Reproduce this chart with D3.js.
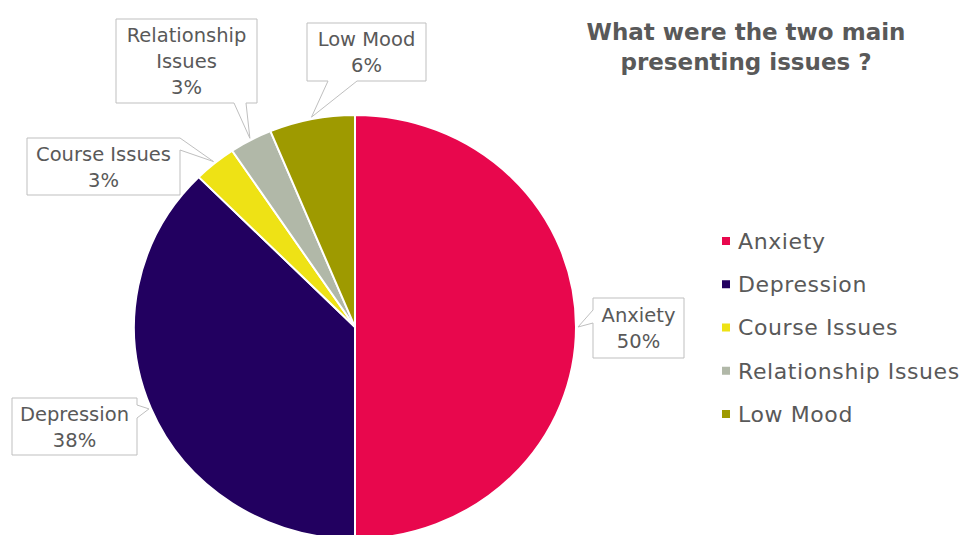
<!DOCTYPE html>
<html>
<head>
<meta charset="utf-8">
<script src="https://cdn.jsdelivr.net/npm/d3@7"></script>
<style>
	body{margin:0;background:#fff;}
	svg{display:block;font-family:"DejaVu Sans",Verdana,sans-serif;}
</style>
</head>
<body>
<svg width="964" height="535"></svg>
<script>
(()=>{

//data
let categories = ["Anxiety","Depression","Course Issues","Relationship Issues","Low Mood"];
let values = [50, 37.5, 3.125, 3.125, 6.25];
let colorList = ["#E8074D","#220060","#EEE215","#B1B8A8","#9E9A00"];
let labelLines = [["Anxiety"],["Depression"],["Course Issues"],["Relationship","Issues"],["Low Mood"]];
let titleLines = ["What were the two main","presenting issues ?"];

//callout boxes: rect + which edge the pointer leaves from
let callouts = [
	{x:593, y:298, w:91, h:60, side:"left", b1:310, b2:323},
	{x:12, y:398, w:125, h:57, side:"right", b1:405, b2:418},
	{x:27, y:138, w:153, h:57, side:"right", b1:138, b2:150},
	{x:116, y:19, w:141, h:84, side:"bottom", b1:234, b2:246},
	{x:307, y:23, w:119, h:58, side:"bottom", b1:328, b2:357}
];

let svg = d3.select("svg");
let cx = 355, cy = 327, rx = 221, ry = 212;
let textColor = "#595959";

let color = d3.scaleOrdinal().domain(categories).range(colorList);
let total = d3.sum(values);
let pct = d3.format(".0%");

let pie = d3.pie().sort(null).value(d => d.value);
let data = categories.map((c,i) => ({name:c, value:values[i], i:i}));
let arcs = pie(data);
let arc = d3.arc().innerRadius(0).outerRadius(rx);

//slices (slightly squashed vertically like the reference)
svg.append("g")
	.attr("transform", `translate(${cx},${cy}) scale(1,${ry/rx})`)
	.selectAll("path")
	.data(arcs)
	.enter().append("path")
	.attr("d", arc)
	.attr("fill", d => color(d.data.name))
	.attr("stroke", "#fff")
	.attr("stroke-width", 2);

//callouts
function tipOf(d){
	let a = (d.startAngle + d.endAngle)/2;
	return [cx + (rx+2)*Math.sin(a), cy - (ry+2)*Math.cos(a)];
}
function calloutPath(b, t){
	let x0=b.x, y0=b.y, x1=b.x+b.w, y1=b.y+b.h;
	let p = d3.path();
	p.moveTo(x0,y0);
	p.lineTo(x1,y0);
	if(b.side==="right"){
		p.lineTo(x1,b.b1); p.lineTo(t[0],t[1]); p.lineTo(x1,b.b2);
	}
	p.lineTo(x1,y1);
	if(b.side==="bottom"){
		p.lineTo(b.b2,y1); p.lineTo(t[0],t[1]); p.lineTo(b.b1,y1);
	}
	p.lineTo(x0,y1);
	if(b.side==="left"){
		p.lineTo(x0,b.b2); p.lineTo(t[0],t[1]); p.lineTo(x0,b.b1);
	}
	p.closePath();
	return p.toString();
}

let lab = svg.append("g").selectAll("g")
	.data(arcs)
	.enter().append("g");

lab.append("path")
	.attr("d", d => calloutPath(callouts[d.index], tipOf(d)))
	.attr("fill", "#fff")
	.attr("stroke", "#BFBFBF")
	.attr("stroke-width", 1);

lab.each(function(d){
	let b = callouts[d.index];
	let lines = labelLines[d.index].concat([pct(d.data.value/total)]);
	let lh = 26;
	let mid = b.y + b.h/2;
	d3.select(this).selectAll("text")
		.data(lines)
		.enter().append("text")
		.attr("x", b.x + b.w/2)
		.attr("y", (l,k) => mid + (k - (lines.length-1)/2)*lh)
		.attr("dy", "0.36em")
		.attr("text-anchor", "middle")
		.attr("font-size", 19.5)
		.attr("fill", textColor)
		.text(l => l);
});

//title
svg.append("g").selectAll("text")
	.data(titleLines)
	.enter().append("text")
	.attr("x", 746)
	.attr("y", (d,i) => 40 + i*30)
	.attr("text-anchor", "middle")
	.attr("font-size", 23)
	.attr("font-weight", "bold")
	.attr("fill", textColor)
	.text(d => d);

//legend
let legendY = d3.scalePoint().domain(categories).range([241, 414]);
let leg = svg.append("g").selectAll("g")
	.data(categories)
	.enter().append("g")
	.attr("transform", d => `translate(722,${legendY(d)})`);
leg.append("rect")
	.attr("x", 0).attr("y", -4)
	.attr("width", 8).attr("height", 8)
	.attr("fill", d => color(d));
leg.append("text")
	.attr("x", 16)
	.attr("dy", "0.36em")
	.attr("font-size", 22)
	.attr("letter-spacing", 0.6)
	.attr("fill", textColor)
	.text(d => d);

})();
</script>
</body>
</html>
